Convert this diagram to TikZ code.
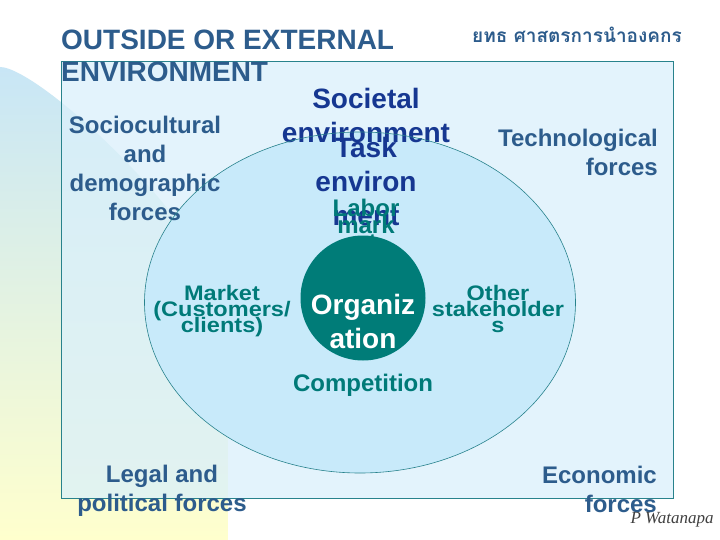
\documentclass[tikz,border=0pt]{standalone}
\usepackage{fontspec}
\setmainfont{Liberation Sans}
\newfontfamily\thaifont[Script=Thai]{Loma}
\newfontfamily\widesans[FakeStretch=1.12]{Liberation Sans}
\newfontfamily\signfont{Liberation Serif}
\usepackage{tikz}
\usetikzlibrary{positioning}

\newcommand\tightlines{\lineskiplimit=-30pt\relax}

\definecolor{steel}{RGB}{45,92,140}
\definecolor{navytext}{RGB}{22,55,145}
\definecolor{tealtext}{RGB}{0,122,120}
\definecolor{orgfill}{RGB}{0,124,120}
\definecolor{rimline}{RGB}{40,130,140}
\definecolor{taskfill}{RGB}{200,234,250}
\definecolor{boxfill}{RGB}{218,240,251}
\definecolor{blobtop}{RGB}{200,230,246}
\definecolor{blobmid}{RGB}{222,242,232}
\definecolor{blobbot}{RGB}{255,255,205}

\begin{document}
\begin{tikzpicture}[x=1pt,y=-1pt,
            every node/.style={inner sep=0pt,align=center}]
        \tikzstyle{title}=[text=steel,align=left,font=\bfseries\fontsize{28}{32}\selectfont]
        \tikzstyle{outer}=[text=steel,font=\bfseries\fontsize{24}{29}\selectfont]
        \tikzstyle{big}=[text=navytext,font=\bfseries\fontsize{28}{34}\selectfont]
        \tikzstyle{inner}=[text=tealtext,font={\widesans\bfseries\fontsize{21}{16}\selectfont\tightlines}]
        \tikzstyle{labor}=[text=tealtext,font={\bfseries\fontsize{24}{17}\selectfont\tightlines}]
        \tikzstyle{rim}=[draw=rimline,line width=0.6pt]

        \useasboundingbox (0,0) rectangle (720,540);
        \fill[white] (0,0) rectangle (720,540);
        \shade[top color=blobtop,middle color=blobmid,bottom color=blobbot]
            (0,540) -- (0,67) .. controls (40,67) and (228,240) .. (228,330) -- (228,540) -- cycle;
        \fill[boxfill,fill opacity=0.75] (61,61) rectangle (673,498);
        \draw[rim] (61,61) rectangle (673,498);
        \fill[taskfill] (360,302.5) ellipse [x radius=215.5, y radius=170.5];

        \node[title,anchor=west] (head) at (61,56) {OUTSIDE OR EXTERNAL\\ENVIRONMENT};
        \node[text=steel,font=\thaifont\bfseries\fontsize{19}{23}\selectfont] (thai) at (577,35) {ยทธ ศาสตรการนำองคกร};

        \node[outer] (socio) at (145,168) {Sociocultural\\and\\demographic\\forces};
        \node[outer,align=right,anchor=east] (tech) at (658,152) {Technological\\forces};
        \node[outer] (legal) at (162,491) {Legal and\\political forces};
        \node[outer,align=right,anchor=east] (econ) at (657,489) {Economic\\forces};

        \node[big] (societal) at (366,115) {Societal\\environment};
        \node[big] (task) at (366,181) {Task\\environ\\ment};
        \draw[rim] (360,302.5) ellipse [x radius=215.5, y radius=170.5];

        \node[labor] (labor) at (366,225) {Labor\\mark\\et};
        \node[circle,fill=orgfill,minimum size=125pt] (org) at (363,298) {};
        \node[text=white,font=\bfseries\fontsize{28}{34}\selectfont] (orglbl)
            at ([yshift=-23pt]org.center) {Organiz\\ation};
        \node[labor] (comp) [below=13pt of org] {Competition};

        \node[inner] (market) at (222,311) {Market\\(Customers/\\clients)};
        \node[inner] (other) at (498,309) {Other\\stakeholder\\s};

        \node[text=black!75,font=\signfont\itshape\fontsize{17}{20}\selectfont] (sign) at (672,520) {P Watanapa};
    \end{tikzpicture}
\end{document}
